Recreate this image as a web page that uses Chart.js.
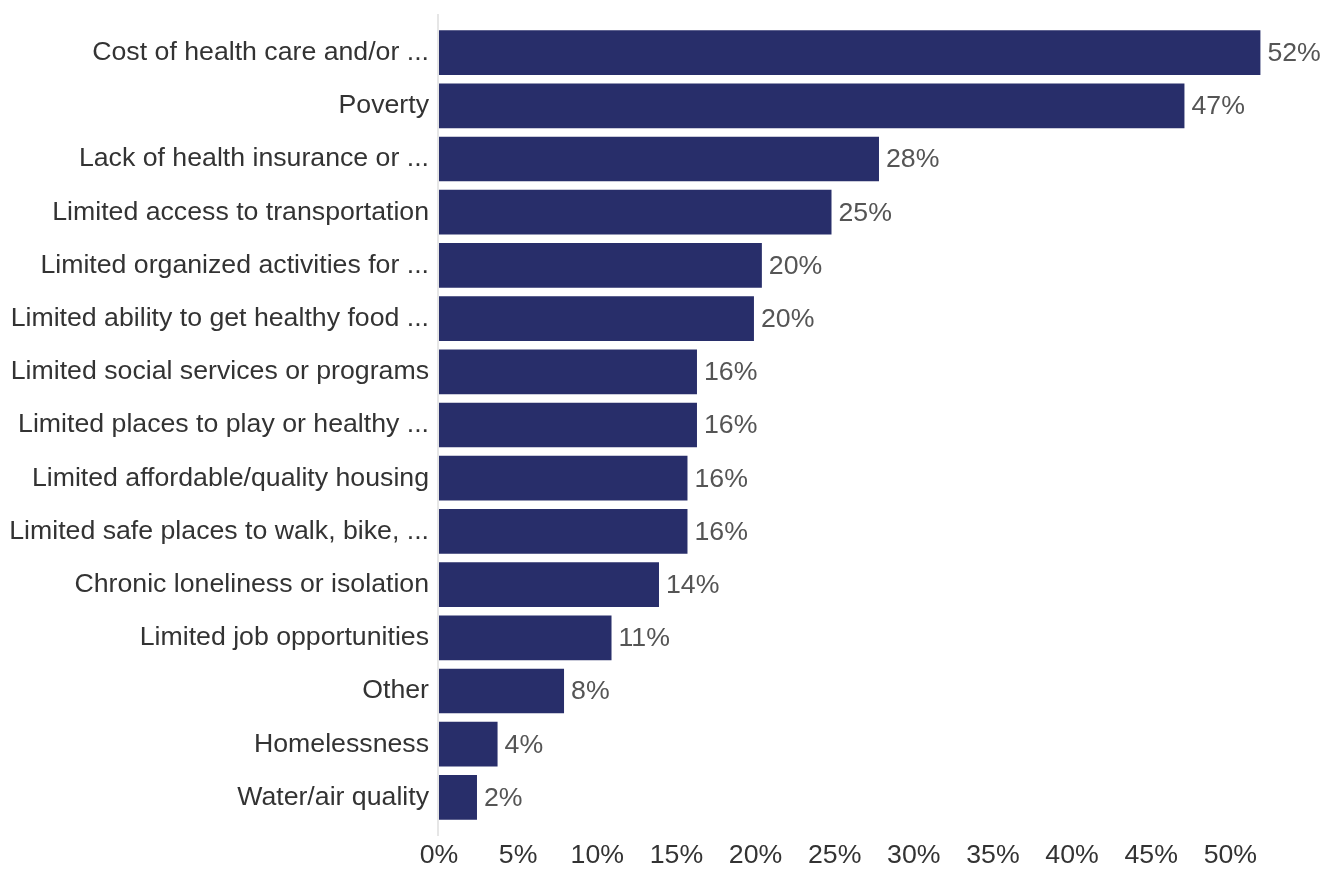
<!DOCTYPE html>
<html>
<head>
<meta charset="utf-8">
<script src="https://cdn.jsdelivr.net/npm/chart.js@4/dist/chart.umd.min.js"></script>
<style>
  html, body { margin: 0; padding: 0; background: #fff; }
  #wrap { width: 1334px; height: 869px; }
</style>
</head>
<body>
<div id="wrap"><canvas id="chart"></canvas></div>
<script>
const categories = [
    'Cost of health care and/or ...',
    'Poverty',
    'Lack of health insurance or ...',
    'Limited access to transportation',
    'Limited organized activities for ...',
    'Limited ability to get healthy food ...',
    'Limited social services or programs',
    'Limited places to play or healthy ...',
    'Limited affordable/quality housing',
    'Limited safe places to walk, bike, ...',
    'Chronic loneliness or isolation',
    'Limited job opportunities',
    'Other',
    'Homelessness',
    'Water/air quality'
];
const percents = [51.9, 47.1, 27.8, 24.8, 20.4, 19.9, 16.3, 16.3, 15.7, 15.7, 13.9, 10.9, 7.9, 3.7, 2.4];
const tickValues = [0, 5, 10, 15, 20, 25, 30, 35, 40, 45, 50];

const barColor = '#282e6a';
const fontFamily = '"Liberation Sans", Arial, sans-serif';
const fontSize = 26.7;

// value labels at the end of each bar
const valueLabels = {
    id: 'valueLabels',
    afterDatasetsDraw(chart) {
        const ctx = chart.ctx;
        const meta = chart.getDatasetMeta(0);
        ctx.save();
        ctx.font = fontSize + 'px ' + fontFamily;
        ctx.fillStyle = '#555555';
        ctx.textAlign = 'left';
        ctx.textBaseline = 'middle';
        meta.data.forEach((bar, i) => {
            ctx.fillText(Math.round(percents[i]) + '%', bar.x + 7, bar.y + 1);
        });
        ctx.restore();
    }
};

// thin light axis line on the left, a bit taller than the plot area
const axisLine = {
    id: 'axisLine',
    beforeDatasetsDraw(chart) {
        const ctx = chart.ctx;
        const a = chart.chartArea;
        const x = chart.scales.x.getPixelForValue(0);
        ctx.save();
        ctx.strokeStyle = '#e6e6e6';
        ctx.lineWidth = 2;
        ctx.beginPath();
        ctx.moveTo(x - 1, a.top - 12);
        ctx.lineTo(x - 1, a.bottom + 12);
        ctx.stroke();
        ctx.restore();
    }
};

new Chart(document.querySelector('#chart').getContext('2d'), {
    type: 'bar',
    data: {
        labels: categories,
        datasets: [{
            data: percents,
            backgroundColor: barColor,
            borderWidth: 0,
            barPercentage: 0.84,
            categoryPercentage: 1
        }]
    },
    options: {
        indexAxis: 'y',
        responsive: true,
        maintainAspectRatio: false,
        animation: false,
        layout: { padding: { top: 22, right: 72, left: 0, bottom: 0 } },
        plugins: {
            legend: { display: false },
            tooltip: { enabled: false }
        },
        scales: {
            x: {
                min: 0,
                max: 52,
                afterBuildTicks(scale) {
                    scale.ticks = tickValues.map(v => ({ value: v }));
                },
                afterFit(scale) { scale.height = 45; },
                grid: { display: false, drawTicks: false },
                border: { display: false },
                ticks: {
                    padding: 16,
                    color: '#333333',
                    maxRotation: 0,
                    font: { size: fontSize, family: fontFamily },
                    callback: v => v + '%'
                }
            },
            y: {
                afterFit(scale) { scale.width = 439; },
                grid: { display: false, drawTicks: false },
                border: { display: false },
                ticks: {
                    padding: 10,
                    color: '#333333',
                    autoSkip: false,
                    font: { size: fontSize, family: fontFamily }
                }
            }
        }
    },
    plugins: [valueLabels, axisLine]
});
</script>
</body>
</html>
